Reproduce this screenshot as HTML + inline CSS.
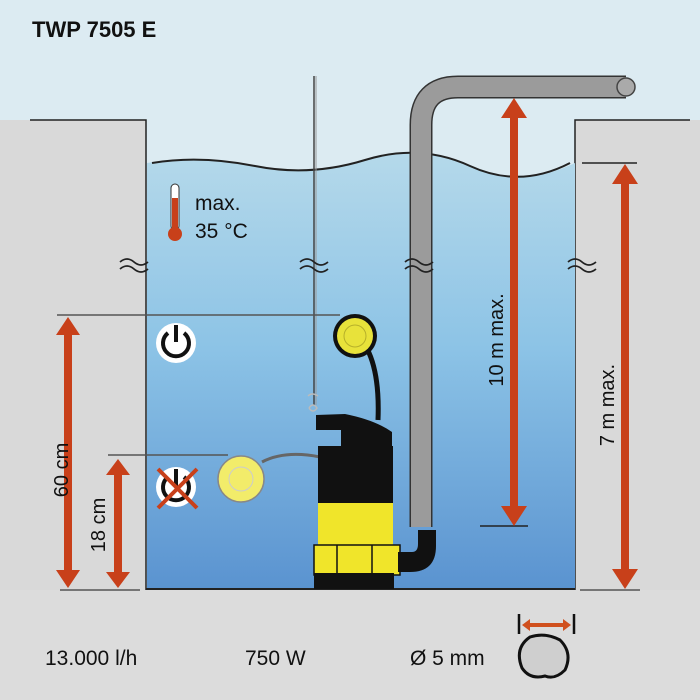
<!DOCTYPE html>
<html><head><meta charset="utf-8"><style>
html,body{margin:0;padding:0;width:700px;height:700px;overflow:hidden;background:#dcdcdc}
svg{display:block}
text{font-family:"Liberation Sans",sans-serif;fill:#111}
</style></head><body>
<svg width="700" height="700" viewBox="0 0 700 700" xmlns="http://www.w3.org/2000/svg">
<defs>
<linearGradient id="w" x1="0" y1="0" x2="0" y2="1">
<stop offset="0" stop-color="#b5d9ea"/><stop offset="0.45" stop-color="#8cc3e6"/><stop offset="1" stop-color="#5a93d0"/>
</linearGradient>
</defs>
<rect x="0" y="0" width="700" height="700" fill="#dcdcdc"/>
<rect x="0" y="0" width="700" height="590" fill="#dcebf2"/>
<rect x="0" y="120" width="146" height="470" fill="#d9d9d9"/>
<rect x="575" y="120" width="125" height="470" fill="#d9d9d9"/>
<polyline points="30,120 146,120 146,590" fill="none" stroke="#222" stroke-width="1.5"/>
<polyline points="575,590 575,120 690,120" fill="none" stroke="#222" stroke-width="1.5"/>
<path d="M147,163 Q200,155 255,166 T365,160 T470,166 T575,163 L575,589 L147,589 Z" fill="url(#w)"/>
<path d="M152,163 Q200,155 255,166 T365,160 T470,166 T570,163" fill="none" stroke="#222" stroke-width="2"/>
<line x1="146" y1="589" x2="575" y2="589" stroke="#222" stroke-width="2"/>
<line x1="60" y1="590" x2="140" y2="590" stroke="#555" stroke-width="1.5"/>
<line x1="580" y1="590" x2="640" y2="590" stroke="#555" stroke-width="1.5"/>
<line x1="314" y1="76" x2="314" y2="405" stroke="#444" stroke-width="1.5"/>
<line x1="316" y1="76" x2="316" y2="405" stroke="#999" stroke-width="1"/>
<path d="M421,527 L421,125 Q421,87 458,87 L626,87" fill="none" stroke="#333" stroke-width="23"/>
<path d="M421,527 L421,125 Q421,87 458,87 L626,87" fill="none" stroke="#9b9b9b" stroke-width="20"/>
<circle cx="626" cy="87" r="9" fill="#aaa" stroke="#444" stroke-width="1.5"/>
<g fill="none" stroke="#222" stroke-width="1.8">
<path d="M120,262 q7,-6 14,0 t14,0 M120,269 q7,-6 14,0 t14,0"/>
<path d="M300,262 q7,-6 14,0 t14,0 M300,269 q7,-6 14,0 t14,0"/>
<path d="M405,262 q7,-6 14,0 t14,0 M405,269 q7,-6 14,0 t14,0"/>
<path d="M568,262 q7,-6 14,0 t14,0 M568,269 q7,-6 14,0 t14,0"/>
</g>
<text x="32" y="37" font-size="22" font-weight="bold">TWP 7505 E</text>
<rect x="171" y="184" width="8" height="46" rx="4" fill="#fff" stroke="#333" stroke-width="1"/>
<rect x="172" y="198" width="6" height="32" fill="#c8401a"/>
<circle cx="175" cy="234" r="7" fill="#c8401a"/>
<text x="195" y="210" font-size="21">max.</text>
<text x="195" y="238" font-size="21">35 °C</text>
<line x1="57" y1="315" x2="340" y2="315" stroke="#555" stroke-width="1.5"/>
<line x1="108" y1="455" x2="228" y2="455" stroke="#555" stroke-width="1.5"/>
<line x1="480" y1="526" x2="528" y2="526" stroke="#222" stroke-width="1.5"/>
<line x1="582" y1="163" x2="637" y2="163" stroke="#222" stroke-width="1.5"/>
<g fill="#c8401a">
<path d="M68,317 L80,335 L72,335 L72,570 L80,570 L68,588 L56,570 L64,570 L64,335 L56,335Z"/>
<path d="M118,459 L130,475 L122,475 L122,572 L130,572 L118,588 L106,572 L114,572 L114,475 L106,475Z"/>
<path d="M514,98 L527,118 L518,118 L518,506 L527,506 L514,526 L501,506 L510,506 L510,118 L501,118Z"/>
<path d="M625,164 L638,184 L629,184 L629,569 L638,569 L625,589 L612,569 L621,569 L621,184 L612,184Z"/>
</g>
<text transform="translate(68,470) rotate(-90)" font-size="20" text-anchor="middle">60 cm</text>
<text transform="translate(105,525) rotate(-90)" font-size="20" text-anchor="middle">18 cm</text>
<text transform="translate(503,340) rotate(-90)" font-size="20" text-anchor="middle">10 m max.</text>
<text transform="translate(614,405) rotate(-90)" font-size="20" text-anchor="middle">7 m max.</text>
<circle cx="176" cy="343" r="20" fill="#fff"/>
<path d="M168,333 A13,13 0 1 0 184,333" fill="none" stroke="#111" stroke-width="4"/>
<line x1="176" y1="325" x2="176" y2="342" stroke="#111" stroke-width="4"/>
<circle cx="176" cy="487" r="20" fill="#fff"/>
<path d="M168,477 A13,13 0 1 0 184,477" fill="none" stroke="#111" stroke-width="4"/>
<line x1="176" y1="469" x2="176" y2="486" stroke="#111" stroke-width="4"/>
<line x1="158" y1="469" x2="197" y2="508" stroke="#c8401a" stroke-width="4"/>
<line x1="197" y1="469" x2="158" y2="508" stroke="#c8401a" stroke-width="4"/>
<path d="M365,345 Q380,370 378,420" fill="none" stroke="#111" stroke-width="5"/>
<circle cx="355" cy="336" r="22" fill="#111"/>
<circle cx="355" cy="336" r="18" fill="#e8e23a"/>
<circle cx="355" cy="336" r="11" fill="none" stroke="#b6b02a" stroke-width="1"/>
<path d="M262,462 Q285,450 320,457" fill="none" stroke="#666" stroke-width="3"/>
<circle cx="241" cy="479" r="23" fill="#f2ec6a" stroke="#888" stroke-width="1.5"/>
<circle cx="241" cy="479" r="12" fill="none" stroke="#ccc" stroke-width="1"/>
<path d="M316,415 L345,414 Q375,420 392,432 L392,448 L341,448 L341,430 L316,430Z" fill="#111"/>
<rect x="318" y="446" width="75" height="58" fill="#111"/>
<rect x="318" y="503" width="75" height="44" fill="#f0e52a"/>
<rect x="314" y="545" width="86" height="30" fill="#f0e52a" stroke="#111" stroke-width="1.5"/>
<g stroke="#111" stroke-width="1.5"><line x1="337" y1="545" x2="337" y2="575"/><line x1="372" y1="545" x2="372" y2="575"/></g>
<rect x="314" y="573" width="80" height="16" fill="#111"/>
<path d="M398,552 L412,552 Q418,552 418,544 L418,530 L436,530 L436,546 Q436,572 410,572 L398,572Z" fill="#111"/>
<path d="M309,408 q4,-6 8,0 q-4,6 -8,0 M308,396 q4,-4 10,0" fill="none" stroke="#bbb" stroke-width="1.5"/>
<text x="45" y="665" font-size="21">13.000 l/h</text>
<text x="245" y="665" font-size="21">750 W</text>
<text x="410" y="665" font-size="21">Ø 5 mm</text>
<path d="M530,637 Q545,632 560,640 Q573,653 565,670 Q555,680 545,676 Q530,680 522,668 Q514,648 530,637Z" fill="#cfcfcf" stroke="#111" stroke-width="3"/>
<line x1="519" y1="614" x2="519" y2="634" stroke="#111" stroke-width="2.5"/>
<line x1="574" y1="614" x2="574" y2="634" stroke="#111" stroke-width="2.5"/>
<path d="M522,625 L530,619 L530,623 L563,623 L563,619 L571,625 L563,631 L563,627 L530,627 L530,631Z" fill="#d0501e"/>
</svg>
</body></html>
